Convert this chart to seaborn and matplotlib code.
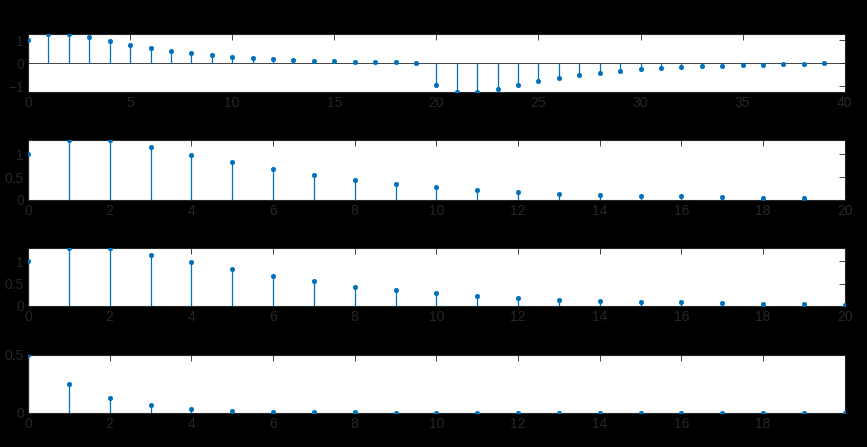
import numpy as np
import pandas as pd
import matplotlib
matplotlib.use("Agg")
import matplotlib.pyplot as plt
import seaborn as sns

# values
n1 = list(range(40))
x1 = [1.0, 1.29, 1.29, 1.14, 0.97, 0.81, 0.66, 0.53, 0.43, 0.34,
      0.27, 0.21, 0.17, 0.13, 0.10, 0.08, 0.06, 0.05, 0.04, 0.03,
      -0.96, -1.25, -1.25, -1.11, -0.94, -0.79, -0.64, -0.51, -0.41, -0.33,
      -0.26, -0.21, -0.16, -0.13, -0.10, -0.07, -0.06, -0.03, -0.02, -0.01]

n2 = list(range(20))
x2 = [1.0, 1.31, 1.31, 1.15, 0.99, 0.82, 0.67, 0.55, 0.43, 0.35,
      0.28, 0.22, 0.17, 0.13, 0.11, 0.09, 0.08, 0.06, 0.04, 0.035]

n3 = list(range(21))
x3 = [1.0, 1.31, 1.31, 1.15, 0.99, 0.82, 0.67, 0.55, 0.43, 0.35,
      0.28, 0.22, 0.17, 0.13, 0.11, 0.09, 0.08, 0.06, 0.04, 0.035, 0.02]

n4 = list(range(21))
x4 = [0.5, 0.25, 0.125, 0.0625, 0.0313, 0.0156, 0.0078, 0.0039, 0.002, 0.001,
      0.0005, 0.0002, 0.0001, 0.0001, 0.0, 0.0, 0.0, 0.0, 0.0, 0.0, 0.0]

blue = "#0072BD"
dark = "#262626"

sns.set_style("white")
plt.rcParams['font.family'] = ['Liberation Sans', 'DejaVu Sans']
plt.rcParams['font.size'] = 10

fig = plt.figure(figsize=(8.67, 4.47), dpi=100, facecolor="black")

boxes = [
    [0.0323, 0.794, 0.942, 0.131],
    [0.0323, 0.5526, 0.942, 0.134],
    [0.0323, 0.316, 0.942, 0.130],
    [0.0323, 0.0767, 0.942, 0.130],
]
data = [(n1, x1), (n2, x2), (n3, x3), (n4, x4)]
xlims = [(0, 40), (0, 20), (0, 20), (0, 20)]
ylims = [(-1.25, 1.29), (0, 1.31), (0, 1.31), (0, 0.5)]
yticks = [[-1, 0, 1], [0, 0.5, 1], [0, 0.5, 1], [0, 0.5]]
yticklabels = [["\u22121", "0", "1"], ["0", "0.5", "1"], ["0", "0.5", "1"], ["0", "0.5"]]
xticks = [list(range(0, 41, 5)), list(range(0, 21, 2)), list(range(0, 21, 2)), list(range(0, 21, 2))]

for i, (box, (n, x)) in enumerate(zip(boxes, data)):
    ax = fig.add_axes(box)
    ax.set_facecolor("white")
    df = pd.DataFrame({"n": n, "x": x})
    ax.vlines(df["n"], 0, df["x"], color=blue, lw=0.9, zorder=2)
    sns.scatterplot(data=df, x="n", y="x", ax=ax, color=blue, s=10,
                    edgecolor=blue, linewidth=0.5, zorder=3)
    if i == 0:
        ax.axhline(0, color=dark, lw=0.6, zorder=1)
    ax.set_xlim(*xlims[i])
    ax.set_ylim(*ylims[i])
    ax.set_xticks(xticks[i])
    labels = [str(t) for t in xticks[i]]
    if i == 3:
        labels[-1] = ""
    ax.set_xticklabels(labels)
    ax.set_yticks(yticks[i])
    ax.set_yticklabels(yticklabels[i])
    ax.set_xlabel("")
    ax.set_ylabel("")
    ax.tick_params(direction="in", length=4, width=0.6, colors=dark,
                   top=True, right=True, labelsize=10, pad=3)
    for s in ax.spines.values():
        s.set_color(dark)
        s.set_linewidth(0.8)
        s.set_visible(True)

fig.savefig("out.png", dpi=100, facecolor="black")
